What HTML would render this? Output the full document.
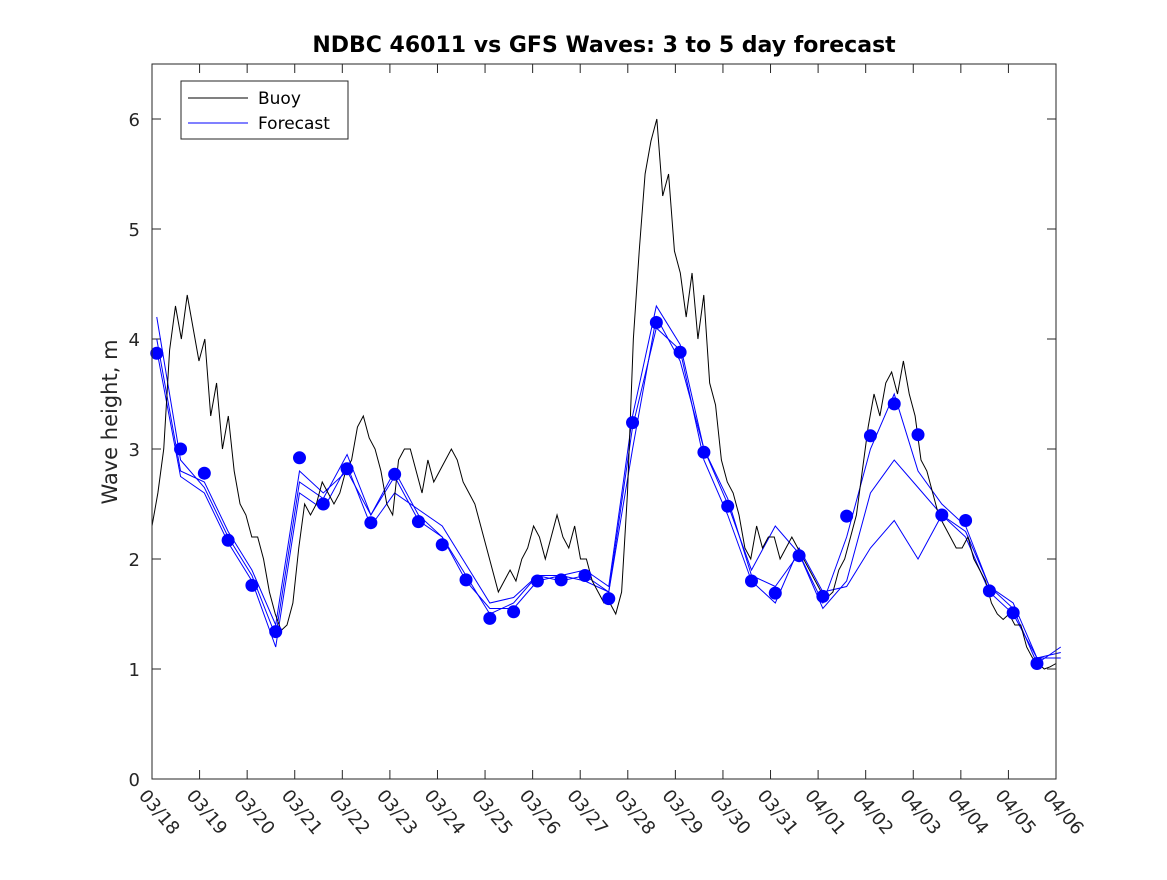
<!DOCTYPE html>
<html><head><meta charset="utf-8"><style>
body{margin:0;background:#fff}
svg text{font-family:"DejaVu Sans","Liberation Sans",sans-serif}
</style></head><body>
<svg id="chart" width="1167" height="875">
<rect width="1167" height="875" fill="#fff"/>
<text x="604" y="52" font-size="22" font-weight="bold" text-anchor="middle">NDBC 46011 vs GFS Waves: 3 to 5 day forecast</text>
<text transform="translate(117,422) rotate(-90)" font-size="21" text-anchor="middle" fill="#262626">Wave height, m</text>
<g id="grid"></g>
<g id="series"></g>
<rect x="152" y="64" width="904" height="715" fill="none" stroke="#262626" stroke-width="1"/>
<g>
<rect x="181" y="81" width="167" height="58" fill="#fff" stroke="#262626"/>
<line x1="188" y1="98" x2="248" y2="98" stroke="#000"/>
<text x="258" y="104" font-size="17">Buoy</text>
<line x1="188" y1="123" x2="248" y2="123" stroke="#00f"/>
<text x="258" y="129" font-size="17">Forecast</text>
</g>
</svg>
<script>
const xLabels=["03/18","03/19","03/20","03/21","03/22","03/23","03/24","03/25","03/26","03/27","03/28","03/29","03/30","03/31","04/01","04/02","04/03","04/04","04/05","04/06"];
const yTicks=[0,1,2,3,4,5,6];
const buoy=[2.3,2.6,3.0,3.9,4.3,4.0,4.4,4.1,3.8,4.0,3.3,3.6,3.0,3.3,2.8,2.5,2.4,2.2,2.2,2.0,1.7,1.5,1.35,1.4,1.6,2.1,2.5,2.4,2.5,2.7,2.6,2.5,2.6,2.8,2.9,3.2,3.3,3.1,3.0,2.8,2.5,2.4,2.9,3.0,3.0,2.8,2.6,2.9,2.7,2.8,2.9,3.0,2.9,2.7,2.6,2.5,2.3,2.1,1.9,1.7,1.8,1.9,1.8,2.0,2.1,2.3,2.2,2.0,2.2,2.4,2.2,2.1,2.3,2.0,2.0,1.8,1.7,1.6,1.6,1.5,1.7,2.6,4.0,4.8,5.5,5.8,6.0,5.3,5.5,4.8,4.6,4.2,4.6,4.0,4.4,3.6,3.4,2.9,2.7,2.6,2.4,2.1,2.0,2.3,2.1,2.2,2.2,2.0,2.1,2.2,2.1,2.0,1.9,1.8,1.7,1.65,1.7,1.9,2.0,2.2,2.4,2.8,3.2,3.5,3.3,3.6,3.7,3.5,3.8,3.5,3.3,2.9,2.8,2.6,2.4,2.3,2.2,2.1,2.1,2.2,2.0,1.9,1.8,1.6,1.5,1.45,1.5,1.4,1.4,1.2,1.1,1.05,1.0,1.02,1.05];
const dots=[3.87,3.0,2.78,2.17,1.76,1.34,2.92,2.5,2.82,2.33,2.77,2.34,2.13,1.81,1.46,1.52,1.8,1.81,1.85,1.64,3.24,4.15,3.88,2.97,2.48,1.8,1.69,2.03,1.66,2.39,3.12,3.41,3.13,2.4,2.35,1.71,1.51,1.05];
const fc1=[4.2,2.9,2.65,2.2,1.85,1.3,2.7,2.55,2.95,2.4,2.75,2.35,2.2,1.85,1.5,1.6,1.85,1.85,1.8,1.7,3.0,4.2,3.8,3.0,2.5,1.9,2.3,2.05,1.55,1.8,2.6,2.9,2.65,2.4,2.2,1.7,1.5,1.1,1.15];
const fc2=[3.9,2.75,2.6,2.15,1.8,1.2,2.6,2.45,2.85,2.3,2.6,2.45,2.3,1.95,1.6,1.65,1.85,1.8,1.85,1.7,3.2,4.1,3.9,2.9,2.4,1.8,1.6,2.1,1.7,1.75,2.1,2.35,2.0,2.4,2.25,1.75,1.55,1.05,1.2];
const fc3=[4.0,2.8,2.7,2.25,1.9,1.4,2.8,2.6,2.8,2.4,2.8,2.4,2.2,1.8,1.55,1.55,1.8,1.85,1.9,1.75,3.3,4.3,3.95,3.0,2.55,1.85,1.75,2.05,1.6,2.2,3.0,3.5,2.8,2.5,2.3,1.75,1.6,1.1,1.1];
const X=d=>152+d*(904/19), Y=v=>779-v*110;
const ns="http://www.w3.org/2000/svg";
const grid=document.getElementById('grid'), ser=document.getElementById('series');
function mk(tag,attrs,parent){const e=document.createElementNS(ns,tag);for(const k in attrs)e.setAttribute(k,attrs[k]);parent.appendChild(e);return e;}
yTicks.forEach(v=>{
 const t=mk('line',{x1:152,x2:161,y1:Y(v),y2:Y(v),stroke:'#262626'},grid);
 
 
 const t2=mk('line',{x1:1047,x2:1056,y1:Y(v),y2:Y(v),stroke:'#262626'},grid);
 
 
 const l=mk('text',{x:140,y:Y(v)+7,'font-size':18,'text-anchor':'end',fill:'#262626'},grid);l.textContent=v;
 
 
});
xLabels.forEach((s,i)=>{
 const x=X(i);
 const t=mk('line',{x1:x,x2:x,y1:770,y2:779,stroke:'#262626'},grid);
 
 
 const t2=mk('line',{x1:x,x2:x,y1:64,y2:73,stroke:'#262626'},grid);
 
 
 const l=mk('text',{transform:`translate(${x-14},${796}) rotate(50)`,'font-size':18,fill:'#262626'},grid);l.textContent=s;
 
 
});
function poly(arr,step,off,color,name){
 const p=mk('polyline',{points:arr.map((v,i)=>X(off+i*step)+','+Y(v)).join(' '),fill:'none',stroke:color,'stroke-width':1},ser);
 
 
}
poly(fc1,0.5,0.1,'#00f','forecast-line-1');
poly(fc2,0.5,0.1,'#00f','forecast-line-2');
poly(fc3,0.5,0.1,'#00f','forecast-line-3');
poly(buoy,19/(buoy.length-1),0,'#000','buoy-line');
dots.forEach((v,i)=>{
 const c=mk('circle',{cx:X(0.1+i*0.5),cy:Y(v),r:6.5,fill:'#00f'},ser);
 
 
});
</script>
</body></html>
